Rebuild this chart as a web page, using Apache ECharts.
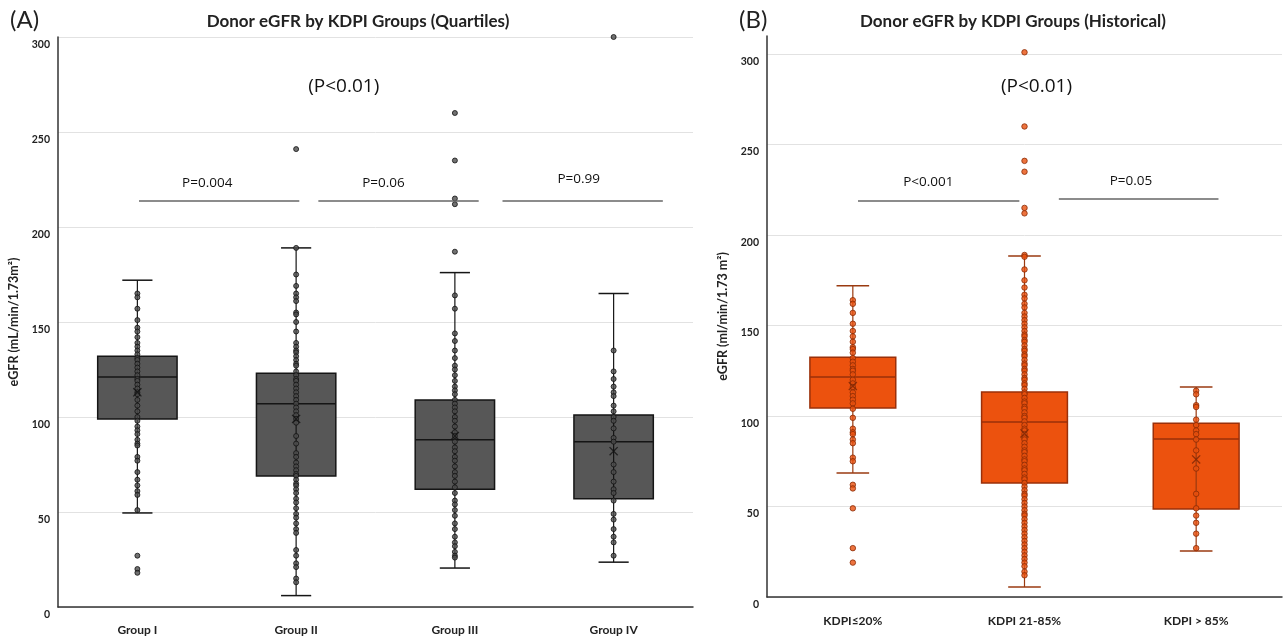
<!DOCTYPE html>
<html>
<head>
<meta charset="utf-8">
<script src="https://cdn.jsdelivr.net/npm/echarts@6/dist/echarts.min.js"></script>
<style>
html, body { margin: 0; padding: 0; background: #fff; }
#main { width: 1287px; height: 638px; }
</style>
</head>
<body>
<div id="main"></div>
<script>
// categories
var catsA = ['Group I', 'Group II', 'Group III', 'Group IV'];
var catsB = ['KDPI\u226420%', 'KDPI 21-85%', 'KDPI > 85%'];

// box stats: [min whisker, Q1, median, Q3, max whisker]
var boxA = [
    [49.5, 99, 121, 132, 172],
    [6, 69, 107, 123, 189],
    [20.5, 62, 88, 109, 176],
    [23.6, 57, 87, 101, 165]
];
var meanA = [113, 99, 90, 82];
var boxB = [
    [68.5, 104.5, 121.5, 132.5, 172],
    [5.5, 63, 96.7, 113.3, 188.5],
    [25.4, 48.6, 87.3, 96, 116]
];
var meanB = [116.6, 90.4, 76];

// individual donors
var groupI = [165,163,157,151,147,145,142,139,137,135,133,131,130,128,126,124,122,120,119,117,115,113,112,109,106,103,100,98,95,93,91,88,86,85,79,77,71,67,64,61,59,51,27,20,18];
var groupII = [241,189,175,169,165,163,161,155,154,150,145,139,137,135,134,132,130,128,127,124,122,120,119,117,115,113,111,109,107,105,103,101,99,97,90,86,81,79,76,74,72,70,69,67,65,64,62,60,57,55,52,49,47,44,41,39,30,27,23,21,15,13];
var groupIII = [260,235,215,212,187,164,157,144,140,135,131,127,125,122,119,116,114,112,109,107,105,103,100,98,95,92,90,87,84,82,79,77,74,71,69,66,63,60,56,54,51,48,44,41,37,34,32,29,27,26];
var groupIV = [300,135,124,120,116,113,111,106,103,100,98,94,89,87,75,71,66,62,60,56,49,46,41,37,34,27];
var kdpiLow = [164,162,157,151,147,144,141,138,137,135,132,130,128,126,125,123,120,118,116,113,111,109,107,104,99,93,91,90,87,85,77,75,62,60,49,27,19];
var kdpiMid = [301,260,241,235,215,212,189,188,181,175,171,167,165,162,160,157,155,153,151,149,147,145,144,142,141,139,137,136,134,133,131,129,128,126,125,123,121,120,118,117,115,113,112,110,108,107,105,104,102,100,99,97,95,93,92,90,88,87,85,83,81,80,78,76,75,73,71,70,68,66,65,63,61,59,57,56,54,52,50,48,46,45,43,41,39,37,35,33,31,29,27,25,23,21,19,17,14,12];
var kdpiHigh = [114,112,106,105,98,95,92,90,87,81,71,57,49,45,41,35,27];

// p-value texts
var pTextA = ['(P<0.01)', 'P=0.004', 'P=0.06', 'P=0.99'];
var pTextB = ['(P<0.01)', 'P<0.001', 'P=0.05'];

var FONT = 'Lato, "Open Sans", sans-serif';
var PFONT = '"Open Sans", Lato, sans-serif';

function toPoints(lists) {
    var out = [];
    lists.forEach(function (arr, i) {
        arr.forEach(function (v) { out.push([i, v]); });
    });
    return out;
}
function boxData(stats) {
    return stats.map(function (s, i) { return [i].concat(s); });
}
function meanData(m) {
    return m.map(function (v, i) { return [i, v]; });
}

function boxRenderer(fill, stroke, whisker) {
    return function (params, api) {
        var idx = api.value(0);
        var lo = api.coord([idx, api.value(1)]);
        var q1 = api.coord([idx, api.value(2)]);
        var med = api.coord([idx, api.value(3)]);
        var q3 = api.coord([idx, api.value(4)]);
        var hi = api.coord([idx, api.value(5)]);
        var band = api.size([1, 0])[0];
        var bw = band * 0.5, cw = band * 0.19;
        var x = lo[0];
        return {
            type: 'group',
            children: [
                { type: 'rect', shape: { x: x - bw / 2, y: q3[1], width: bw, height: q1[1] - q3[1] },
                  style: { fill: fill, stroke: stroke, lineWidth: 1.5 } },
                { type: 'line', shape: { x1: x - bw / 2, y1: med[1], x2: x + bw / 2, y2: med[1] },
                  style: { stroke: stroke, lineWidth: 1.5 } },
                { type: 'line', shape: { x1: x, y1: hi[1], x2: x, y2: lo[1] },
                  style: { stroke: whisker, lineWidth: 1.2 } },
                { type: 'line', shape: { x1: x - cw / 2, y1: hi[1], x2: x + cw / 2, y2: hi[1] },
                  style: { stroke: whisker, lineWidth: 1.5 } },
                { type: 'line', shape: { x1: x - cw / 2, y1: lo[1], x2: x + cw / 2, y2: lo[1] },
                  style: { stroke: whisker, lineWidth: 1.5 } }
            ]
        };
    };
}

var xMark = 'path://M0,1L1,0L5,4L9,0L10,1L6,5L10,9L9,10L5,6L1,10L0,9L4,5Z';

function pLabel(text, x, y, size) {
    return {
        value: [x, y],
        label: { show: true, formatter: text, position: 'inside', fontSize: size,
                 fontFamily: PFONT, color: '#111', opacity: 1 }
    };
}
function pLine(x1, x2, y) {
    return [{ coord: [x1, y] }, { coord: [x2, y] }];
}

var labelStyle = { fontFamily: FONT, fontWeight: 'bold', fontSize: 10.5, color: '#222' };
var catLabelStyle = { fontFamily: FONT, fontWeight: 'bold', fontSize: 12, color: '#222' };
var nameStyle = { fontFamily: FONT, fontWeight: 'bold', fontSize: 12.5, color: '#222' };

var dom = document.getElementById('main');
var myChart = echarts.init(dom);
var option = {
    animation: false,
    title: [
        { text: '(A)', left: 5, top: 3, textStyle: { fontFamily: FONT, fontWeight: 'normal', fontSize: 24, color: '#222' } },
        { text: 'Donor eGFR by KDPI Groups (Quartiles)', left: 353, top: 8, textAlign: 'center',
          textStyle: { fontFamily: FONT, fontWeight: 'bold', fontSize: 17, color: '#222' } },
        { text: '(B)', left: 734, top: 3, textStyle: { fontFamily: FONT, fontWeight: 'normal', fontSize: 24, color: '#222' } },
        { text: 'Donor eGFR by KDPI Groups (Historical)', left: 1008, top: 8, textAlign: 'center',
          textStyle: { fontFamily: FONT, fontWeight: 'bold', fontSize: 17, color: '#222' } }
    ],
    grid: [
        { left: 58, right: 594, top: 37, bottom: 31 },
        { left: 767, right: 5, top: 36, bottom: 41 }
    ],
    xAxis: [
        { type: 'category', gridIndex: 0, data: catsA, axisTick: { show: false },
          axisLine: { onZero: false, lineStyle: { color: '#333', width: 1.5 } },
          axisLabel: Object.assign({ margin: 17 }, catLabelStyle) },
        { type: 'value', gridIndex: 0, min: -0.5, max: 3.5, show: false },
        { type: 'category', gridIndex: 1, data: catsB, axisTick: { show: false },
          axisLine: { onZero: false, lineStyle: { color: '#333', width: 1.5 } },
          axisLabel: Object.assign({ margin: 18 }, catLabelStyle) },
        { type: 'value', gridIndex: 1, min: -0.5, max: 2.5, show: false }
    ],
    yAxis: [
        { type: 'value', gridIndex: 0, min: 0, max: 300, interval: 50,
          name: 'eGFR (mL/min/1.73m\u00b2)', nameLocation: 'middle', nameGap: 38,
          nameTextStyle: nameStyle,
          axisLine: { show: true, onZero: false, lineStyle: { color: '#333', width: 1.5 } },
          axisTick: { show: false },
          splitLine: { lineStyle: { color: '#e2e2e2', width: 1 } },
          axisLabel: Object.assign({ margin: 8, verticalAlign: 'top', padding: [2, 0, 0, 0] }, labelStyle) },
        { type: 'value', gridIndex: 1, min: 0, max: 310, interval: 50,
          name: 'eGFR (ml/min/1.73 m\u00b2)', nameLocation: 'middle', nameGap: 38,
          nameTextStyle: nameStyle,
          axisLine: { show: true, onZero: false, lineStyle: { color: '#333', width: 1.5 } },
          axisTick: { show: false },
          splitLine: { showMaxLine: false, lineStyle: { color: '#e2e2e2', width: 1 } },
          axisLabel: Object.assign({ margin: 8, verticalAlign: 'top', padding: [2, 0, 0, 0],
              formatter: function (v) { return v % 50 ? '' : v; } }, labelStyle) }
    ],
    series: [
        { type: 'custom', xAxisIndex: 0, yAxisIndex: 0, z: 2,
          renderItem: boxRenderer('#575757', '#151515', '#151515'),
          encode: { x: 0, y: [1, 2, 3, 4, 5] }, data: boxData(boxA) },
        { type: 'scatter', xAxisIndex: 0, yAxisIndex: 0, z: 3, symbolSize: 5,
          itemStyle: { color: '#4d4d4d', borderColor: '#111', borderWidth: 1 },
          data: toPoints([groupI, groupII, groupIII, groupIV]) },
        { type: 'scatter', xAxisIndex: 0, yAxisIndex: 0, z: 4, symbol: xMark, symbolSize: 9,
          itemStyle: { color: '#111' }, data: meanData(meanA) },
        { type: 'scatter', xAxisIndex: 1, yAxisIndex: 0, z: 5, symbolSize: 0,
          itemStyle: { color: '#fff' }, silent: true,
          data: [
              pLabel(pTextA[0], 1.3, 274, 19),
              pLabel(pTextA[1], 0.44, 223, 13.5),
              pLabel(pTextA[2], 1.55, 223, 13.5),
              pLabel(pTextA[3], 2.78, 225, 13.5)
          ],
          markLine: { silent: true, symbol: ['none', 'none'], label: { show: false },
              lineStyle: { color: '#666', width: 1.5, type: 'solid' },
              data: [pLine(0.01, 1.02, 214), pLine(1.14, 2.15, 214), pLine(2.3, 3.31, 214)] } },

        { type: 'custom', xAxisIndex: 2, yAxisIndex: 1, z: 2,
          renderItem: boxRenderer('#ec520e', '#9a300a', '#9a3a10'),
          encode: { x: 0, y: [1, 2, 3, 4, 5] }, data: boxData(boxB) },
        { type: 'scatter', xAxisIndex: 2, yAxisIndex: 1, z: 3, symbolSize: 5.5,
          itemStyle: { color: '#e8500e', borderColor: '#8a2a05', borderWidth: 1 },
          data: toPoints([kdpiLow, kdpiMid, kdpiHigh]) },
        { type: 'scatter', xAxisIndex: 2, yAxisIndex: 1, z: 4, symbol: xMark, symbolSize: 9,
          itemStyle: { color: '#7a2505' }, data: meanData(meanB) },
        { type: 'scatter', xAxisIndex: 3, yAxisIndex: 1, z: 5, symbolSize: 0,
          itemStyle: { color: '#fff' }, silent: true,
          data: [
              pLabel(pTextB[0], 1.07, 282, 19),
              pLabel(pTextB[1], 0.44, 229, 13.5),
              pLabel(pTextB[2], 1.62, 230, 13.5)
          ],
          markLine: { silent: true, symbol: ['none', 'none'], label: { show: false },
              lineStyle: { color: '#666', width: 1.5, type: 'solid' },
              data: [pLine(0.03, 0.97, 219), pLine(1.2, 2.13, 220)] } }
    ]
};
if (option && typeof option === 'object') {
    myChart.setOption(option, true);
}
</script>
</body>
</html>
